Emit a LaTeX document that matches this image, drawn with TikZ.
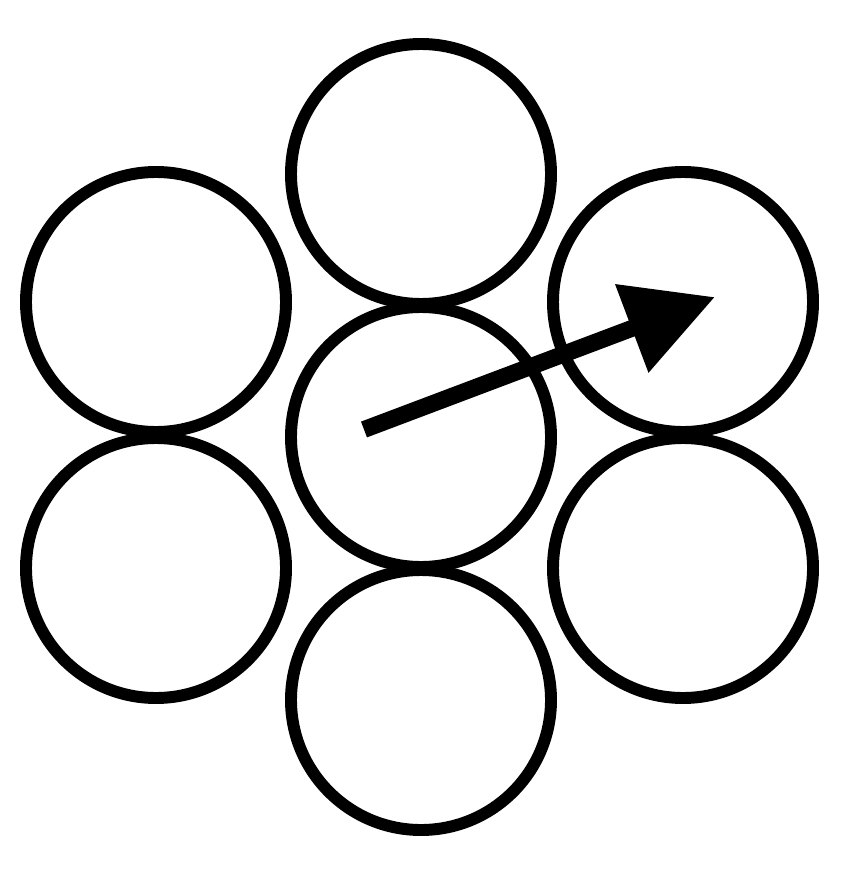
\documentclass[tikz,border=0pt]{standalone}
\usepackage{tikz}
\usetikzlibrary{arrows.meta,positioning,calc}

\begin{document}
\begin{tikzpicture}[
    strand/.style={circle, draw=black, line width=3.4pt, fill=white, inner sep=0pt, minimum size=2.6cm},
    arrow/.style={-{Triangle[length=0.89cm, width=0.9cm]}, line width=4.8pt}
]
    \useasboundingbox[fill=white] (0,0) rectangle (8.4,-8.75);

    % Middle column
    \node[strand] (top) at (4.21,-1.74) {};
    \node[strand] (mid) at (4.21,-4.37) {};
    \node[strand] (bot) at (4.21,-7.00) {};

    % Left column
    \node[strand] (lefttop) at (1.56,-3.02) {};
    \node[strand] (leftbot) at (1.56,-5.68) {};

    % Right column
    \node[strand] (righttop) at (6.83,-3.02) {};
    \node[strand] (rightbot) at (6.83,-5.68) {};

    % Direction
    \coordinate (start) at ($(mid)+(-0.57,0.075)$);
    \coordinate (goal) at ($(righttop)+(0.32,0.05)$);
    \draw[arrow] (start) -- (goal);

\end{tikzpicture}
\end{document}
